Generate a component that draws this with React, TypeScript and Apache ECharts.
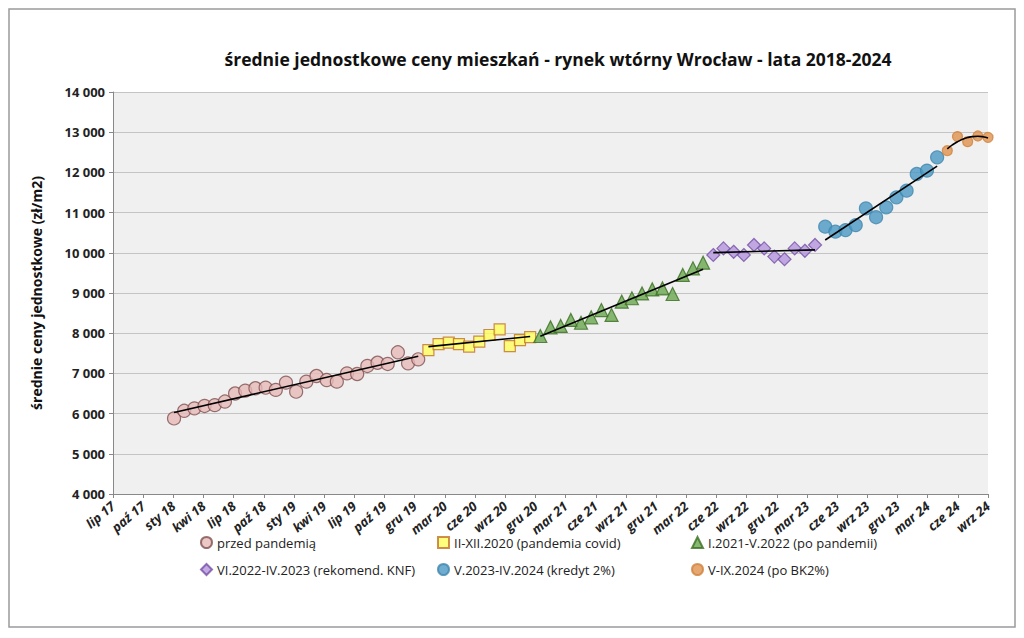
import { useRef, useEffect } from "react";
import * as echarts from "echarts";

// x in months since lip 17 (Jul 2017)
const tickLabels = [
  "lip 17", "paź 17", "sty 18", "kwi 18", "lip 18", "paź 18", "sty 19", "kwi 19",
  "lip 19", "paź 19", "gru 19", "mar 20", "cze 20", "wrz 20", "gru 20", "mar 21",
  "cze 21", "wrz 21", "gru 21", "mar 22", "cze 22", "wrz 22", "gru 22", "mar 23",
  "cze 23", "wrz 23", "gru 23", "mar 24", "cze 24", "wrz 24",
];
const totalMonths = 86;

const prePandemic = [
  5880, 6070, 6130, 6190, 6210, 6300, 6500, 6570, 6630, 6645, 6590, 6770, 6545,
  6795, 6935, 6835, 6795, 7000, 6985, 7185, 7265, 7235, 7525, 7250, 7350,
]; // I.2018 - I.2020
const covid = [7580, 7730, 7765, 7730, 7665, 7790, 7955, 8095, 7680, 7830, 7900]; // II-XII.2020
const postPandemic = [
  7930, 8145, 8180, 8330, 8260, 8395, 8575, 8455, 8785, 8870, 8990, 9090, 9115,
  8975, 9450, 9615, 9755,
]; // I.2021 - V.2022
const knf = [9945, 10110, 10025, 9945, 10195, 10110, 9905, 9840, 10110, 10050, 10195]; // VI.2022 - IV.2023
const credit2 = [10650, 10525, 10565, 10690, 11105, 10885, 11130, 11380, 11545, 11960, 12045, 12375]; // V.2023 - IV.2024
const afterBK2 = [12540, 12890, 12765, 12905, 12870]; // V-IX.2024

const seriesDefs = [
  { name: "przed pandemią", data: prePandemic, start: 6, symbol: "circle", size: 13, fill: "#e6b9b8", stroke: "#7f4f4f", order: "lin" },
  { name: "II-XII.2020 (pandemia covid)", data: covid, start: 31, symbol: "rect", size: 11, fill: "#ffff5c", stroke: "#c0702a", order: "lin" },
  { name: "I.2021-V.2022 (po pandemii)", data: postPandemic, start: 42, symbol: "triangle", size: 13, fill: "#6aa84f", stroke: "#3b6e22", order: "lin" },
  { name: "VI.2022-IV.2023 (rekomend. KNF)", data: knf, start: 59, symbol: "diamond", size: 13, fill: "#b495df", stroke: "#7550a5", order: "lin" },
  { name: "V.2023-IV.2024 (kredyt 2%)", data: credit2, start: 70, symbol: "circle", size: 13, fill: "#4a98c4", stroke: "#3f86ae", order: "lin" },
  { name: "V-IX.2024 (po BK2%)", data: afterBK2, start: 82, symbol: "circle", size: 10, fill: "#e0924c", stroke: "#d0823c", order: "quad" },
];

const scale = totalMonths / (tickLabels.length - 1);

function fit(xs: number[], ys: number[], order: string): (x: number) => number {
  const n = xs.length;
  const mx = xs.reduce((a, b) => a + b, 0) / n;
  const u = xs.map((x) => x - mx);
  if (order === "lin") {
    const my = ys.reduce((a, b) => a + b, 0) / n;
    let sxy = 0, sxx = 0;
    u.forEach((v, i) => { sxy += v * (ys[i] - my); sxx += v * v; });
    const b = sxy / sxx;
    return (x) => my + b * (x - mx);
  }
  // quadratic least squares
  const s = (p: number) => u.reduce((a, v) => a + Math.pow(v, p), 0);
  const t = (p: number) => u.reduce((a, v, i) => a + Math.pow(v, p) * ys[i], 0);
  const A = [[n, s(1), s(2)], [s(1), s(2), s(3)], [s(2), s(3), s(4)]];
  const B = [t(0), t(1), t(2)];
  const det = (m: number[][]) =>
    m[0][0] * (m[1][1] * m[2][2] - m[1][2] * m[2][1]) -
    m[0][1] * (m[1][0] * m[2][2] - m[1][2] * m[2][0]) +
    m[0][2] * (m[1][0] * m[2][1] - m[1][1] * m[2][0]);
  const D = det(A);
  const c = [0, 1, 2].map((k) => det(A.map((row, i) => row.map((v, j) => (j === k ? B[i] : v)))) / D);
  return (x) => c[0] + c[1] * (x - mx) + c[2] * (x - mx) * (x - mx);
}

const App = () => {
  const chartRef = useRef<HTMLDivElement>(null);
  useEffect(() => {
    if (!chartRef.current) return;
    const myChart = echarts.init(chartRef.current, null, { renderer: "svg" });
    const font = "'Open Sans', 'Noto Sans', sans-serif";
    const series: any[] = [];
    seriesDefs.forEach((d) => {
      const xs = d.data.map((_, i) => d.start + i);
      series.push({
        name: d.name,
        type: "scatter",
        symbol: d.symbol,
        symbolSize: d.size,
        itemStyle: { color: d.fill, borderColor: d.stroke, borderWidth: 1.2 },
        data: d.data.map((v, i) => [xs[i], v]),
        z: 3,
      });
      const f = fit(xs, d.data, d.order);
      const lx = d.order === "lin" ? [xs[0], xs[xs.length - 1]] : xs.flatMap((x, i) => (i < xs.length - 1 ? [x, x + 0.5] : [x]));
      series.push({
        type: "line",
        smooth: d.order !== "lin",
        symbol: "none",
        silent: true,
        lineStyle: { color: "#000", width: 1.6 },
        data: lx.map((x) => [x, f(x)]),
        z: 4,
      });
    });
    const legendCommon = {
      itemWidth: 11,
      itemHeight: 11,
      itemGap: 0,
      textStyle: { fontFamily: font, fontSize: 13, color: "#222" },
      orient: "horizontal",
    };
    const option: any = {
      animation: false,
      backgroundColor: "#fff",
      title: {
        text: "średnie jednostkowe ceny mieszkań - rynek wtórny Wrocław - lata 2018-2024",
        left: 553,
        textAlign: "center",
        top: 45,
        textStyle: { fontFamily: font, fontSize: 17.5, fontWeight: "bold", color: "#111" },
      },
      legend: seriesDefs.map((d, i) => ({
        ...legendCommon,
        data: [d.name],
        left: [195, 432, 686][i % 3],
        top: i < 3 ? 531 : 558,
      })),
      grid: { left: 113, right: 36, top: 92, bottom: 144, show: true, backgroundColor: "#f0f0f0", borderWidth: 0 },
      xAxis: {
        type: "value",
        min: 0,
        max: totalMonths,
        interval: scale,
        axisLine: { show: true, lineStyle: { color: "#888" } },
        axisTick: { show: true, length: 4, lineStyle: { color: "#888" } },
        splitLine: { show: false },
        axisLabel: {
          rotate: 40,
          fontFamily: font,
          fontSize: 13,
          fontWeight: "bold",
          fontStyle: "italic",
          color: "#222",
          margin: 10,
          formatter: (v: number) => tickLabels[Math.round(v / scale)] ?? "",
        },
      },
      yAxis: {
        type: "value",
        min: 4000,
        max: 14000,
        interval: 1000,
        name: "średnie ceny jednostkowe (zł/m2)",
        nameLocation: "middle",
        nameGap: 70,
        nameTextStyle: { fontFamily: font, fontSize: 14, fontWeight: "bold", color: "#111" },
        axisLine: { show: true, lineStyle: { color: "#888" } },
        axisTick: { show: true, length: 4, lineStyle: { color: "#888" } },
        splitLine: { lineStyle: { color: "#c4c4c4" } },
        axisLabel: {
          fontFamily: font,
          fontSize: 13,
          fontWeight: "bold",
          color: "#222",
          formatter: (v: number) => String(v).replace(/^(\d+)(\d{3})$/, "$1 $2"),
        },
      },
      graphic: [
        { type: "rect", shape: { x: 9, y: 9, width: 1006, height: 618 }, style: { fill: "none", stroke: "#9a9a9a", lineWidth: 1.5 }, silent: true },
      ],
      series,
    };
    myChart.setOption(option);
    return () => myChart.dispose();
  }, []);

  return <div ref={chartRef} style={{ position: "absolute", left: 0, top: 0, width: 1024, height: 638 }}></div>;
};

export default App;
